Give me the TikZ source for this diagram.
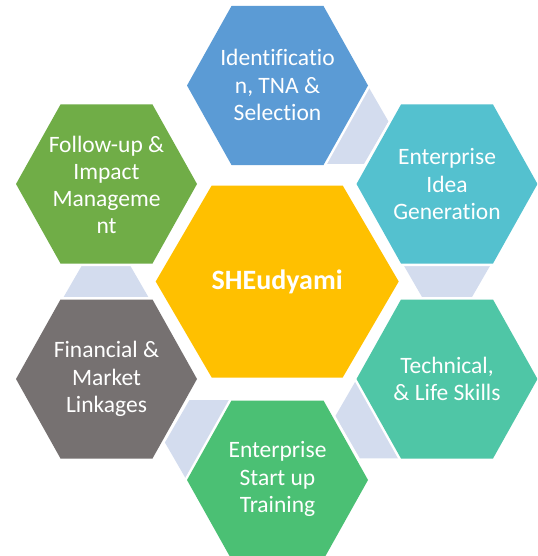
\documentclass[tikz,border=0pt]{standalone}
\usepackage{fontspec}
\setmainfont{Carlito}[Ligatures=NoCommon]
\definecolor{cBlue}{HTML}{5B9BD5}
\definecolor{cTeal}{HTML}{54C1CF}
\definecolor{cMint}{HTML}{4FC6A6}
\definecolor{cGreen}{HTML}{4BC074}
\definecolor{cGrey}{HTML}{767171}
\definecolor{cOlive}{HTML}{70AD47}
\definecolor{cGold}{HTML}{FFC000}
\definecolor{cLink}{HTML}{D3DCEE}
\tikzset{
  hexfill/.style={fill=#1, preaction={draw=white, line width=2.5pt, line join=round}},
  linkfill/.style={fill=cLink},
  hexlabel/.style={text=white, align=center, inner sep=0pt, font=\fontsize{11.75}{13.6}\selectfont},
  hublabel/.style={text=white, align=center, inner sep=0pt, font=\fontsize{14}{16}\selectfont\bfseries},
}
% style, cx, cy, half-width, half top edge, half-height
\newcommand{\hexshape}[6]{%
  \path[#1] (#2-#4,#3) -- (#2-#5,#3-#6) -- (#2+#5,#3-#6) -- (#2+#4,#3)
    -- (#2+#5,#3+#6) -- (#2-#5,#3+#6) -- cycle;}
\begin{document}
\begin{tikzpicture}[x=0.5pt,y=-0.5pt]
\useasboundingbox (0,0) rectangle (537,556);
\clip (0,0) rectangle (537,556);
% linking hexagons
\hexshape{linkfill}{339.5}{121.5}{49}{24.5}{42.4}
\hexshape{linkfill}{447}{255.5}{49}{24.5}{42.4}
\hexshape{linkfill}{384.4}{416}{49}{24.5}{42.4}
\hexshape{linkfill}{213.9}{442.5}{49}{24.5}{42.4}
\hexshape{linkfill}{106}{308.5}{49}{24.5}{42.4}
% outer hexagons
\hexshape{hexfill=cBlue}{277.5}{85.5}{90.5}{46}{79.5}
\hexshape{hexfill=cTeal}{447}{184}{90.5}{46}{79.5}
\hexshape{hexfill=cMint}{447}{379}{90.5}{46}{79.5}
\hexshape{hexfill=cGreen}{277.5}{480}{90.5}{46}{79.5}
\hexshape{hexfill=cGrey}{106.5}{379}{90.5}{46}{79.5}
\hexshape{hexfill=cOlive}{106.5}{184}{90.5}{46}{79.5}
% central hexagon
\hexshape{hexfill=cGold}{277.2}{281.5}{121.5}{65.5}{96}
% labels
\node[hexlabel] (idsel) at (277.5,85) {Identificatio\\n, TNA \&\\Selection};
\node[hexlabel] (idea) at (447,184) {Enterprise\\Idea\\Generation};
\node[hexlabel] (tech) at (447,379) {Technical,\\\& Life Skills};
\node[hexlabel] (startup) at (277.5,479) {Enterprise\\Start up\\Training};
\node[hexlabel] (fin) at (106.5,379) {Financial \&\\Market\\Linkages};
\node[hexlabel] (follow) at (106.5,185) {Follow-up \&\\Impact\\Manageme\\nt};
\node[hublabel] (hub) at (277.2,282) {SHEudyami};
\end{tikzpicture}
\end{document}
